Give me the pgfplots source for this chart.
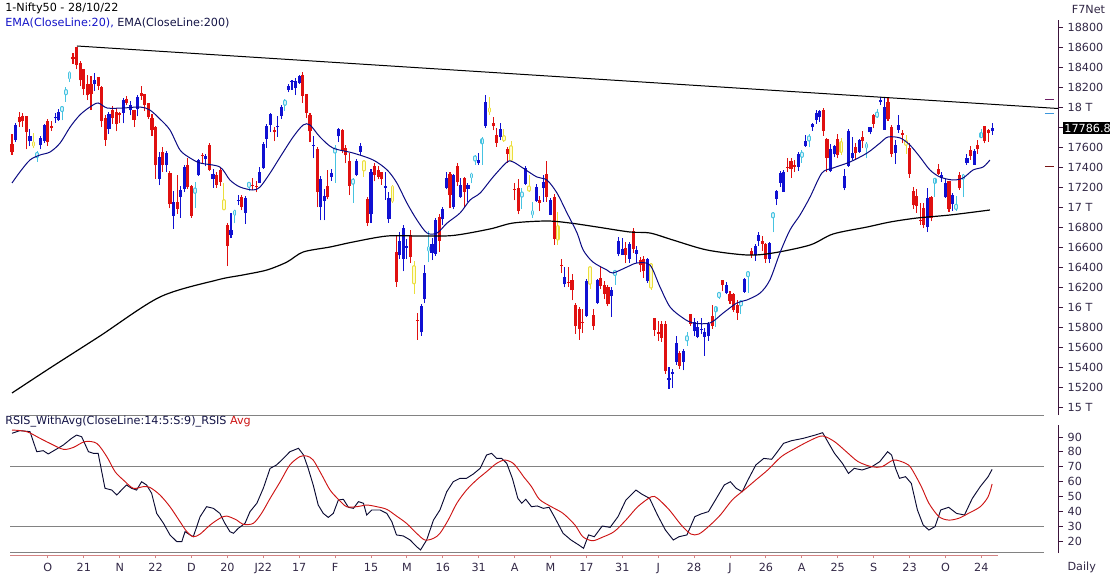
\documentclass[border=0pt]{standalone}
\usepackage{fontspec}
\setmainfont{DejaVu Sans}
\usepackage{pgfplots}
\usepackage{pgfplotstable}
\pgfplotsset{compat=1.18}

\definecolor{upblue}{RGB}{16,16,210}
\definecolor{dnred}{RGB}{224,16,16}
\definecolor{hcyan}{RGB}{70,195,225}
\definecolor{hcyanin}{RGB}{215,242,250}
\definecolor{hyel}{RGB}{235,222,60}
\definecolor{hyelin}{RGB}{255,252,210}
\definecolor{emablue}{RGB}{10,10,130}
\definecolor{axcol}{RGB}{60,20,60}
\definecolor{labcol}{RGB}{50,40,70}
\definecolor{rsicol}{RGB}{10,10,50}
\definecolor{avgcol}{RGB}{205,20,20}
\definecolor{gridgray}{RGB}{130,130,130}
\definecolor{xaxpink}{RGB}{210,130,130}
\definecolor{legblue}{RGB}{20,20,200}
\definecolor{legnavy}{RGB}{20,20,70}

\newcommand{\cf}{\fontsize{8.4}{10}\selectfont}

\pgfplotsset{
  cwick/.style n args={3}{only marks, mark=*, mark size=0pt,
    mark options={draw opacity=0, fill opacity=0}, forget plot,
    restrict expr to domain={\thisrow{k}}{#1:#1},
    error bars/.cd, y dir=plus, y explicit, error mark=none,
    error bar style={draw=#2, line width=#3}},
  cbody/.style n args={3}{only marks, mark=*, mark size=0pt,
    mark options={draw opacity=0, fill opacity=0}, forget plot,
    restrict expr to domain={\thisrow{k}}{#1:#1},
    error bars/.cd, y dir=plus, y explicit, error mark=none,
    error bar style={draw=#2, #3}},
}

% daily candles, i = trading day (0 = 22/09/21), k: 1 up, 2 down, 3 cyan hollow, 4 yellow hollow
\pgfplotstableread{
i o h l c k
0 17630 17727 17520 17546 2
1 17670 17843 17646 17823 1
2 17897 17947 17798 17853 2
3 17906 17943 17799 17855 2
4 17908 17912 17576 17748 2
5 17657 17781 17608 17711 1
6 17643 17743 17585 17618 4
7 17507 17557 17453 17532 3
8 17615 17709 17576 17691 1
9 17661 17833 17640 17822 1
10 17861 17884 17613 17646 2
11 17810 17857 17763 17790 2
12 17887 17941 17840 17895 1
13 17867 17977 17864 17946 1
14 17967 18009 17865 17992 3
15 18136 18197 18050 18161 3
16 18290 18350 18248 18339 3
17 18500 18543 18434 18477 2
18 18602 18604 18377 18419 2
19 18439 18458 18209 18267 2
20 18382 18384 18124 18178 2
21 18230 18315 18069 18115 2
22 18229 18310 17968 18125 2
23 18232 18342 18162 18268 1
24 18295 18295 18169 18211 2
25 18200 18209 17799 17857 2
26 17889 17915 17613 17672 2
27 17783 17954 17729 17930 1
28 17970 18012 17832 17889 2
29 17947 17988 17757 17830 2
30 17935 17947 17839 17916 2
31 17940 18087 17836 18069 1
32 18084 18112 18017 18044 2
33 17967 18061 17915 18018 1
34 17967 17971 17798 17873 2
35 17977 18123 17905 18103 1
36 18141 18210 18070 18110 2
37 18127 18132 17958 18017 2
38 18041 18044 17878 17899 2
39 17890 17929 17712 17765 2
40 17796 17806 17280 17417 2
41 17282 17553 17216 17503 1
42 17550 17600 17354 17416 2
43 17417 17564 17351 17536 1
44 17339 17355 16985 17026 2
45 16913 17160 16783 17054 1
46 17051 17324 16931 16983 2
47 17104 17213 16892 17167 1
48 17183 17420 17149 17401 1
49 17424 17489 17180 17197 2
50 17209 17217 16891 16913 2
51 17150 17252 16988 17177 3
52 17315 17484 17308 17469 1
53 17524 17543 17437 17517 2
54 17476 17534 17406 17511 1
55 17619 17640 17355 17368 2
56 17283 17376 17192 17325 1
57 17324 17351 17192 17221 2
58 17374 17397 17211 17248 2
59 17060 17237 16966 16985 4
60 16825 16841 16410 16614 2
61 16720 16937 16688 16771 1
62 16930 16972 16837 16955 3
63 17066 17118 17015 17073 1
64 17098 17119 16966 17004 2
65 16938 17112 16834 17086 1
66 17209 17250 17161 17234 3
67 17220 17285 17170 17214 2
68 17213 17264 17147 17204 2
69 17244 17400 17238 17354 1
70 17388 17646 17383 17625 1
71 17681 17827 17593 17805 1
72 17820 17944 17748 17925 1
73 17768 17797 17655 17746 2
74 17797 17905 17704 17812 1
75 17913 18017 17879 18003 1
76 18030 18081 17964 18055 3
77 18170 18227 18146 18212 1
78 18257 18272 18171 18258 1
79 18185 18286 18119 18256 1
80 18235 18321 18228 18309 1
81 18324 18350 18038 18113 2
82 18130 18130 17885 17938 2
83 17921 17943 17648 17757 2
84 17613 17707 17485 17617 1
85 17575 17599 16997 17149 2
86 17001 17309 16867 17278 1
87 17062 17182 16866 17110 1
88 17209 17373 17077 17102 2
89 17301 17380 17264 17340 1
90 17552 17623 17244 17577 3
91 17706 17794 17648 17780 1
92 17767 17781 17535 17560 2
93 17590 17617 17437 17516 2
94 17456 17536 17119 17214 2
95 17241 17294 17043 17266 3
96 17320 17477 17306 17464 1
97 17554 17640 17520 17606 1
98 17450 17455 17303 17374 4
99 17076 17099 16809 16843 2
100 16933 17375 16839 17352 1
101 17408 17442 17255 17322 2
102 17370 17408 17275 17304 2
103 17345 17352 17220 17276 2
104 17192 17351 17070 17207 1
105 16876 17149 16844 17092 1
106 17200 17220 17036 17063 4
107 16548 16706 16203 16248 2
108 16516 16748 16478 16658 1
109 16481 16815 16356 16794 1
110 16593 16678 16478 16606 1
111 16723 16768 16442 16498 2
112 16400 16456 16133 16245 4
113 15867 15944 15671 15863 2
114 15747 16028 15711 16013 1
115 16079 16418 16038 16345 1
116 16569 16757 16447 16594 3
117 16545 16694 16470 16630 1
118 16528 16888 16514 16871 1
119 16900 16927 16555 16663 2
120 16876 17000 16820 16975 1
121 17194 17345 17175 17287 1
122 17329 17353 16987 17117 2
123 16999 17334 16975 17316 1
124 17405 17443 17213 17245 2
125 17095 17292 17091 17223 1
126 17289 17295 17004 17153 2
127 17181 17235 17052 17222 1
128 17300 17343 17235 17325 3
129 17473 17522 17422 17498 3
130 17436 17536 17422 17465 1
131 17645 17703 17422 17670 3
132 17809 18115 17791 18053 1
133 17982 18095 17921 17957 4
134 17843 17901 17765 17807 2
135 17723 17787 17600 17640 2
136 17698 17842 17665 17784 1
137 17700 17779 17650 17675 4
138 17584 17596 17442 17530 2
139 17600 17663 17457 17476 4
140 17183 17238 17067 17174 2
141 17194 17275 16925 16959 2
142 17112 17186 16979 17137 3
143 17234 17414 17218 17393 1
144 17197 17315 17149 17172 4
145 16929 17054 16889 16954 3
146 17055 17226 17052 17200 1
147 17073 17110 16959 17038 2
148 17189 17322 17053 17245 1
149 17329 17462 17053 17103 2
150 16924 17092 16917 17069 1
151 17096 17133 16623 16678 2
152 16800 16945 16623 16683 4
153 16415 16484 16340 16411 2
154 16227 16404 16197 16302 1
155 16248 16404 16204 16240 2
156 16271 16335 16066 16167 2
157 16021 16041 15735 15808 2
158 15977 16000 15671 15782 2
159 15845 15977 15739 15842 2
160 15913 16284 15900 16259 1
161 16390 16400 16183 16240 4
162 15918 15984 15775 15809 2
163 16044 16284 16029 16266 1
164 16291 16415 16185 16214 2
165 16225 16262 16078 16126 2
166 16196 16223 16006 16026 2
167 16106 16204 15903 16171 1
168 16328 16370 16221 16353 3
169 16528 16696 16506 16662 1
170 16520 16691 16518 16585 1
171 16594 16649 16438 16523 2
172 16481 16646 16443 16628 1
173 16762 16794 16538 16584 2
174 16535 16610 16444 16570 1
175 16469 16503 16347 16416 2
176 16478 16514 16293 16356 2
177 16263 16492 16243 16479 1
178 16420 16440 16172 16202 4
179 15887 15887 15710 15774 2
180 15749 15859 15659 15732 2
181 15832 15863 15654 15692 2
182 15833 15864 15335 15360 2
183 15272 15400 15183 15294 1
184 15334 15382 15191 15350 1
185 15455 15708 15419 15638 1
186 15545 15565 15385 15413 2
187 15451 15578 15367 15557 1
188 15674 15749 15615 15699 3
189 15926 15927 15815 15832 2
190 15757 15892 15710 15850 1
191 15701 15861 15687 15799 1
192 15775 15891 15728 15780 1
193 15704 15794 15511 15752 1
194 15710 15852 15661 15835 1
195 15909 16025 15785 15811 2
196 15965 16011 15800 15990 3
197 16108 16150 16081 16133 3
198 16273 16275 16157 16221 2
199 16137 16248 16127 16216 1
200 16126 16158 16031 16058 2
201 16128 16140 15950 15967 2
202 16018 16070 15875 15939 2
203 16024 16066 15927 16049 3
204 16151 16287 16142 16279 1
205 16316 16359 16142 16341 3
206 16562 16588 16490 16521 2
207 16523 16627 16465 16606 1
208 16662 16752 16610 16719 1
209 16662 16706 16564 16631 2
210 16632 16636 16438 16484 2
211 16476 16653 16438 16642 1
212 16905 16948 16747 16930 3
213 17079 17173 17018 17158 1
214 17244 17356 17204 17340 1
215 17154 17367 17154 17345 1
216 17403 17490 17348 17388 2
217 17463 17490 17291 17382 2
218 17423 17474 17348 17398 2
219 17402 17548 17360 17525 1
220 17510 17566 17442 17535 3
221 17611 17719 17600 17659 1
222 17673 17725 17597 17698 3
223 17797 17839 17764 17825 1
224 17868 17965 17833 17944 1
225 17898 17968 17852 17956 1
226 17966 17992 17710 17758 2
227 17682 17690 17345 17491 2
228 17357 17625 17345 17577 1
229 17525 17623 17499 17605 1
230 17679 17727 17487 17523 2
231 17640 17686 17519 17559 4
232 17188 17380 17166 17313 1
233 17414 17778 17401 17759 1
234 17485 17695 17468 17542 1
235 17598 17644 17476 17539 2
236 17546 17683 17540 17665 1
237 17695 17764 17587 17656 2
238 17599 17650 17485 17624 3
239 17748 17804 17726 17798 1
240 17923 17926 17786 17833 2
241 17911 17980 17889 17936 3
242 18045 18096 18015 18070 1
243 17772 18091 17771 18004 1
244 18046 18096 17861 17877 2
245 17796 17820 17497 17531 2
246 17540 17667 17430 17622 1
247 17770 17919 17744 17816 1
248 17744 17773 17635 17718 2
249 17655 17722 17532 17630 4
250 17593 17642 17291 17327 2
251 17157 17196 16978 17016 2
252 17111 17176 16943 17007 2
253 16871 17037 16821 16858 2
254 16993 17037 16788 16818 2
255 16799 17187 16748 17094 1
256 17103 17114 16855 16887 2
257 17249 17288 17100 17274 3
258 17379 17428 17315 17331 2
259 17287 17348 17252 17315 1
260 17095 17280 17094 17241 1
261 17256 17261 16950 16984 2
262 17025 17142 16961 17124 1
263 16989 17112 16956 17014 3
264 17322 17348 17172 17186 2
265 17287 17328 17098 17312 3
266 17438 17528 17421 17486 1
267 17568 17607 17472 17512 2
268 17423 17584 17421 17564 1
269 17622 17670 17531 17576 2
270 17706 17777 17700 17731 3
271 17808 17811 17637 17656 2
272 17771 17783 17654 17737 2
273 17756 17838 17723 17787 1
}\candles

\begin{document}
\begin{tikzpicture}
\useasboundingbox (0,0) rectangle (832.5pt,432pt);

% ---------------- price panel ----------------
\begin{axis}[
  at={(0pt,120.75pt)}, anchor=south west, scale only axis,
  width=793.5pt, height=296.25pt,
  xmin=-3.343, xmax=291.36, ymin=14920, ymax=18870,
  axis x line=none, axis y line*=right,
  y axis line style={draw=axcol, line width=0.75pt},
  scaled y ticks=false,
  ytick={15000,15200,...,18800},
  yticklabels={15 T,15200,15400,15600,15800,16 T,16200,16400,16600,16800,17 T,17200,17400,17600,{},18 T,18200,18400,18600,18800},
  tick align=outside, major tick length=3.75pt,
  ytick style={draw=axcol, line width=0.6pt},
  yticklabel style={font=\cf, text=labcol},
  clip=false,
]
% wicks
\addplot[cwick={1}{upblue}{0.8pt}] table[x=i, y=l, y error expr=\thisrow{h}-\thisrow{l}] {\candles};
\addplot[cwick={2}{dnred}{0.8pt}] table[x=i, y=l, y error expr=\thisrow{h}-\thisrow{l}] {\candles};
\addplot[cwick={3}{hcyan}{0.6pt}] table[x=i, y=l, y error expr=\thisrow{h}-\thisrow{l}] {\candles};
\addplot[cwick={4}{hyel}{0.6pt}] table[x=i, y=l, y error expr=\thisrow{h}-\thisrow{l}] {\candles};
% bodies
\addplot[cbody={1}{upblue}{line width=2.35pt}] table[x=i, y expr={min(\thisrow{o},\thisrow{c})}, y error expr={max(abs(\thisrow{c}-\thisrow{o}),7)}] {\candles};
\addplot[cbody={2}{dnred}{line width=2.35pt}] table[x=i, y expr={min(\thisrow{o},\thisrow{c})}, y error expr={max(abs(\thisrow{c}-\thisrow{o}),7)}] {\candles};
\addplot[cbody={3}{hcyan}{line width=2.8pt, line cap=round}] table[x=i, y expr={min(\thisrow{o},\thisrow{c})}, y error expr={max(abs(\thisrow{c}-\thisrow{o}),6)}] {\candles};
\addplot[cbody={3}{hcyanin}{line width=1.2pt, line cap=round}] table[x=i, y expr={min(\thisrow{o},\thisrow{c})}, y error expr={max(abs(\thisrow{c}-\thisrow{o}),6)}] {\candles};
\addplot[cbody={4}{hyel}{line width=2.8pt, line cap=round}] table[x=i, y expr={min(\thisrow{o},\thisrow{c})}, y error expr={max(abs(\thisrow{c}-\thisrow{o}),6)}] {\candles};
\addplot[cbody={4}{hyelin}{line width=1.2pt, line cap=round}] table[x=i, y expr={min(\thisrow{o},\thisrow{c})}, y error expr={max(abs(\thisrow{c}-\thisrow{o}),6)}] {\candles};

% EMA 200
\addplot[black, line width=0.9pt, smooth] coordinates {
(0,15140) (10.6,15390) (24.5,15710) (41.2,16100) (57.1,16270) (64.3,16320)
(71,16370) (76.6,16450) (81.1,16550) (88.6,16600) (95,16650) (104.5,16710)
(113.6,16710) (122.8,16715) (133.1,16780) (139.6,16840) (149,16860) (155.4,16840)
(163,16800) (172.1,16750) (177.7,16740) (184.1,16670) (193.6,16570) (204.7,16520)
(212,16540) (222.3,16620) (228.7,16730) (238.2,16800) (244.6,16850) (252.1,16890)
(261.3,16920) (272.4,16970)};
% EMA 20
\addplot[emablue, line width=0.75pt, smooth] coordinates {
(0,17240) (2.2,17350) (5,17470) (7.8,17520) (10.6,17550) (13.4,17640) (16.2,17800)
(18.9,17920) (21.7,18000) (24,18040) (26.5,17990) (30.9,17990) (35.7,18000)
(38.4,17970) (41.2,17880) (44,17770) (46.8,17570) (49.6,17490) (52.4,17440)
(57.9,17400) (60.7,17270) (63.5,17200) (67.1,17170) (69.1,17200) (71.9,17340)
(74.7,17500) (78.3,17700) (81.1,17820) (83,17820) (85.8,17700) (89.4,17590)
(95,17540) (100.6,17470) (104.5,17370) (107.2,17240) (110,17040) (112.8,16870)
(115.6,16740) (118.4,16740) (121.2,16840) (124.8,16940) (127.6,17070) (130.4,17140)
(134,17300) (137.9,17450) (139.6,17450) (142.3,17390) (146.2,17300) (149,17270)
(151.8,17140) (154.6,16940) (157.4,16740) (159.1,16570) (161.8,16450) (165.7,16370)
(167.4,16340) (171.3,16400) (174.1,16440) (177.7,16420) (180.5,16200) (183.3,16000)
(186.9,15890) (189.7,15840) (194.4,15840) (198.1,15940) (201.9,16040) (204.7,16070)
(208.4,16140) (211.1,16270) (213.9,16540) (216.7,16770) (219.5,16920) (222.3,17100)
(225.6,17340) (228.7,17390) (233.4,17450) (238.2,17540) (241.8,17640) (244,17700)
(247.4,17690) (250.1,17620) (252.9,17500) (255.7,17370) (258.5,17300) (262.1,17270)
(264.9,17290) (267.7,17370) (270.5,17400) (272.4,17470)};
% trend line
\addplot[black, line width=0.75pt] coordinates {(18.1,18610) (291.36,17985)};
% last-value markers by the scale
\addplot[draw={rgb,255:red,110;green,30;blue,100}, line width=0.75pt] coordinates {(287.7,18070) (290.2,18070)};
\addplot[draw={rgb,255:red,60;green,150;blue,220}, line width=0.75pt] coordinates {(287.7,17930) (290.2,17930)};
\addplot[draw={rgb,255:red,120;green,20;blue,20}, line width=0.75pt] coordinates {(287.7,17400) (290.2,17400)};
\node[fill=black, text=white, font=\cf, anchor=west, inner sep=1.3pt, xshift=3.3pt] at (axis cs:291.36,17786.8) {17786.8};
\end{axis}

% ---------------- RSI panel ----------------
\begin{axis}[
  at={(0pt,17.25pt)}, anchor=south west, scale only axis,
  width=793.5pt, height=96pt,
  xmin=-3.343, xmax=291.36, ymin=11.94, ymax=98.08,
  axis x line=none, axis y line*=right,
  y axis line style={draw=axcol, line width=0.75pt},
  ytick={20,30,...,90},
  yticklabels={20,30,40,50,60,70,80,90},
  tick align=outside, major tick length=3.75pt,
  ytick style={draw=axcol, line width=0.6pt},
  yticklabel style={font=\cf, text=labcol},
  clip=false,
]
\addplot[gridgray, line width=0.75pt] coordinates {(-0.557,104.8) (287.47,104.8)};
\addplot[gridgray, line width=0.75pt] coordinates {(-0.557,70) (287.47,70)};
\addplot[gridgray, line width=0.75pt] coordinates {(-0.557,30) (287.47,30)};
\addplot[gridgray, line width=0.75pt] coordinates {(-0.557,12.3) (287.47,12.3)};
% RSI
\addplot[rsicol, line width=0.7pt] coordinates {
(0,92.5) (2.2,94.3) (5.0,93.6) (6.9,80.1) (8.7,80.8) (10.1,78.6) (12.0,81.3) (14.3,84.6)
(16.6,89.1) (18.0,91.3) (19.4,90.2) (21.3,80.1) (22.7,79.0) (24.0,79.0) (25.9,55.5)
(27.8,54.3) (29.2,51.0) (30.5,54.3) (31.9,57.7) (33.3,55.5) (34.7,54.3) (36.1,59.9)
(37.5,57.7) (38.9,52.1) (40.3,38.6) (42.2,31.9) (44.0,24.1) (45.9,19.6) (47.3,19.6)
(48.2,26.3) (49.6,24.1) (50.5,22.9) (52.4,36.4) (54.2,43.1) (56.1,42.0) (57.9,38.6)
(59.3,31.9) (60.7,26.3) (61.7,25.2) (63.0,28.5) (64.9,31.9) (66.3,39.8) (68.2,45.4)
(70.0,55.5) (71.9,68.9) (73.7,71.2) (75.6,75.6) (77.4,80.1) (79.8,82.4) (81.2,77.9)
(82.5,68.9) (83.9,57.7) (85.3,44.2) (86.7,38.6) (88.1,35.9) (89.5,38.6) (90.9,47.6)
(92.3,48.1) (93.7,42.7) (95.1,42.0) (96.5,46.5) (97.9,45.4) (98.8,37.5) (100.2,40.9)
(102.5,40.9) (104.4,38.6) (105.8,33.0) (107.1,24.1) (109.0,23.4) (110.9,20.7)
(112.7,16.2) (113.8,14.0) (115.5,20.7) (117.4,34.1) (119.2,40.9) (121.1,53.2)
(122.9,59.9) (124.8,62.2) (126.6,62.2) (128.5,65.1) (130.4,68.9) (132.2,77.9)
(133.6,79.0) (135.0,75.6) (136.4,75.6) (137.8,72.3) (139.4,62.0) (140.9,48.7)
(142.0,45.4) (143.1,48.1) (144.7,43.1) (146.3,43.6) (148.0,42.0) (149.6,42.7)
(151.3,35.3) (153.5,25.2) (155.7,20.7) (157.9,17.3) (159.2,15.1) (160.6,24.1)
(162.2,22.9) (164.4,30.1) (166.6,29.2) (168.8,36.4) (171.0,47.6) (173.8,54.3)
(175.4,51.6) (177.6,48.7) (179.8,37.5) (182.0,27.4) (184.2,20.7) (185.8,22.9)
(188.0,24.1) (190.2,36.4) (191.9,38.2) (194.0,39.8) (196.2,48.7) (198.4,57.7)
(200.1,59.9) (201.7,55.5) (203.4,53.2) (205.0,61.1) (207.2,71.2) (209.4,75.6)
(211.6,75.0) (213.2,80.1) (214.9,85.7) (217.1,87.5) (220.4,89.1) (223.7,91.3)
(225.8,92.9) (227.5,85.7) (229.1,79.0) (231.3,72.3) (233.0,65.5) (234.6,68.9)
(236.8,67.8) (239.5,70.0) (241.7,73.4) (243.9,80.1) (245.0,77.9) (246.1,68.9)
(247.2,62.2) (248.9,63.3) (250.5,58.8) (252.2,40.9) (253.8,30.8) (255.4,27.4)
(257.1,29.7) (258.7,40.9) (260.9,42.7) (263.1,38.6) (265.3,37.5) (267.5,48.7)
(269.7,56.6) (271.9,63.3) (273,68.2)};
% Avg
\addplot[avgcol, line width=0.7pt, smooth] coordinates {
(0,94.7) (4.1,93.6) (7.8,89.1) (10.6,85.7) (14.3,81.7) (17.1,83.0) (20.3,86.9)
(23.6,85.7) (26.4,76.8) (28.7,66.7) (31.0,61.1) (33.8,55.5) (36.6,56.6) (38.4,56.1)
(41.2,51.0) (44.0,43.1) (46.8,33.0) (48.7,26.3) (50.5,22.9) (52.4,24.7) (55.2,30.8)
(57.9,35.3) (59.8,36.8) (62.6,34.1) (64.4,31.2) (67.2,31.9) (69.5,38.6) (71.9,48.7)
(74.7,59.9) (77.4,71.2) (80.2,76.8) (82.1,77.2) (83.9,74.5) (86.3,64.4) (88.6,54.3)
(90.9,48.1) (93.2,43.1) (96.0,43.1) (98.8,44.2) (101.6,43.1) (104.4,41.3) (107.1,36.8)
(109.9,31.9) (112.7,25.2) (115.0,20.7) (117.4,21.8) (119.2,25.2) (121.5,34.1)
(123.9,45.4) (126.6,54.3) (129.4,61.1) (132.2,66.7) (135.0,72.3) (137.3,74.5)
(139.6,72.3) (141.5,66.7) (142.5,63.3) (144.7,56.6) (146.9,48.1) (150.2,43.1)
(153.5,38.6) (156.8,30.8) (159.0,22.9) (161.7,20.2) (164.4,22.5) (167.7,26.3)
(171.0,34.1) (174.3,43.1) (178.1,49.8) (179.8,48.7) (183.1,40.9) (186.4,30.8)
(189.1,24.7) (191.3,24.7) (194.0,29.7) (197.3,37.5) (200.6,47.6) (203.9,54.3)
(207.2,61.1) (210.5,67.8) (214.3,76.8) (218.2,82.4) (222.6,88.0) (225.8,90.7)
(229.1,86.9) (232.4,80.1) (235.7,73.4) (239.5,70.0) (242.3,70.0) (245.6,74.5)
(248.9,72.3) (250.5,68.9) (253.3,56.6) (255.4,45.4) (258.2,36.4) (260.9,34.1)
(263.7,35.3) (266.4,38.6) (269.7,43.1) (271.9,49.8) (273,58.4)};
\end{axis}

% ---------------- date axis ----------------
\begin{axis}[
  at={(7.5pt,15.75pt)}, anchor=south west, scale only axis,
  width=741pt, height=1pt,
  xmin=-0.557, xmax=274.65, ymin=0, ymax=1,
  axis y line=none, axis x line*=bottom,
  x axis line style={draw=xaxpink, line width=0.75pt},
  xtick={10,20,...,270},
  xticklabels={O,21,N,22,D,20,J22,17,F,15,M,16,31,A,M,17,31,J,28,J,26,A,25,S,23,O,24},
  tick align=outside, major tick length=2.6pt,
  xtick style={draw=xaxpink, line width=0.75pt},
  xticklabel style={font=\cf, text=labcol},
]
\addplot[draw=none] coordinates {(0,0.5)};
\end{axis}

% ---------------- texts ----------------
\node[anchor=west, font=\cf, text=black, inner sep=0pt] at (3.75pt,426pt) {1-Nifty50 - 28/10/22};
\node[anchor=west, font=\cf, inner sep=0pt] at (3.75pt,414.75pt) {\textcolor{legblue}{EMA(CloseLine:20),} \textcolor{legnavy}{EMA(CloseLine:200)}};
\node[anchor=east, font=\cf, text=labcol, inner sep=0pt] at (829pt,425.25pt) {F7Net};
\node[anchor=west, font=\cf, inner sep=0pt] at (3.75pt,115.5pt) {\textcolor{legnavy}{RSIS\_WithAvg(CloseLine:14:5:S:9)\_RSIS} \textcolor{avgcol}{Avg}};
\node[anchor=west, font=\cf, text=labcol, inner sep=0pt] at (800.5pt,6.75pt) {Daily};
\end{tikzpicture}
\end{document}
